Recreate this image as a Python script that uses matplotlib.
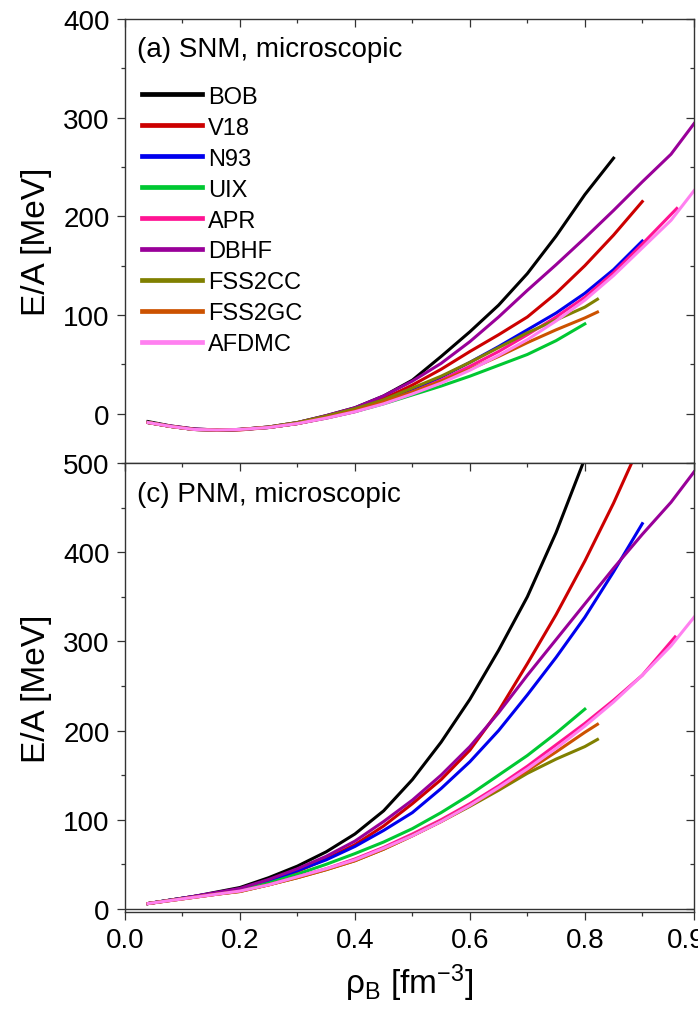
import numpy as np
import matplotlib
matplotlib.use("Agg")
import matplotlib.pyplot as plt
from matplotlib.ticker import MultipleLocator

plt.rcParams['font.family'] = ['Liberation Sans', 'DejaVu Sans']
plt.rcParams['mathtext.fontset'] = 'custom'
plt.rcParams['mathtext.rm'] = 'Liberation Sans'
plt.rcParams['mathtext.it'] = 'Liberation Sans:italic'

# --- EoS curves: energy per baryon vs baryon density ---
names = ["BOB", "V18", "N93", "UIX", "APR", "DBHF", "FSS2CC", "FSS2GC", "AFDMC"]
colors = ["#000000", "#CC0000", "#0000EE", "#00C832", "#FF1493",
          "#990099", "#808000", "#CC5200", "#FF80F0"]

# density grid shared by the tabulated curves
grid = [0.04, 0.08, 0.12, 0.16, 0.2, 0.25, 0.3, 0.35, 0.4, 0.45, 0.5,
        0.55, 0.6, 0.65, 0.7, 0.75, 0.8, 0.85, 0.9, 0.95]

# symmetric nuclear matter (a): values on grid, then last point
snm_y = {
    "BOB":    [-8, -12.5, -15.5, -16.5, -16, -13.5, -9, -2, 6, 18, 34, 58, 83, 110, 142, 180, 222, 259],
    "V18":    [-9, -13, -16, -17, -16.5, -14, -10, -4, 4, 15, 29, 45, 63, 80, 98, 122, 150, 181, 215],
    "N93":    [-9, -13, -16, -16.5, -16, -14, -10, -4, 3, 12, 24, 37, 52, 68, 85, 102, 122, 146, 175],
    "UIX":    [-9, -13, -16, -16.5, -16, -14, -10, -4.5, 2, 10, 19, 28, 38, 49, 60, 74, 91],
    "APR":    [-9, -13, -16, -16.5, -16, -14, -10, -4.5, 2, 11, 22, 34, 48, 63, 80, 98, 118, 143, 172],
    "DBHF":   [-9, -12.5, -15.5, -16.5, -16, -13.5, -9, -2, 6, 18, 33, 51, 73, 98, 125, 151, 178, 206, 235, 263],
    "FSS2CC": [-9, -13, -16, -16.5, -16, -13.5, -9, -2.5, 5, 14, 26, 38, 52, 67, 82, 95, 108],
    "FSS2GC": [-9, -13, -16, -16.5, -16, -14, -10, -4, 3, 12, 22, 33, 45, 58, 72, 85, 97],
    "AFDMC":  [-9, -13, -16, -16.5, -16, -14, -10, -4.5, 2, 10, 20, 31, 44, 59, 75, 94, 115, 140, 168, 196],
}
snm_end = {"APR": (0.96, 208), "DBHF": (0.99, 294), "FSS2CC": (0.822, 116),
           "FSS2GC": (0.822, 103), "AFDMC": (0.99, 226)}

# pure neutron matter (c)
pnm_y = {
    "BOB":    [6, 10, 14, 19, 24, 35, 48, 64, 84, 110, 145, 187, 235, 290, 350, 422, 505],
    "V18":    [6, 10, 14, 18, 22, 31, 42, 56, 72, 93, 118, 145, 178, 222, 275, 330, 390, 455],
    "N93":    [6, 10, 14, 18, 22, 31, 43, 55, 70, 88, 108, 135, 165, 200, 240, 282, 327, 378, 432],
    "UIX":    [6, 10, 13.5, 17, 21, 29, 39, 50, 62, 75, 90, 108, 128, 150, 172, 197, 224],
    "APR":    [6, 9.5, 13, 16.5, 20, 27, 36, 45, 56, 69, 84, 100, 118, 138, 160, 184, 208, 234, 262],
    "DBHF":   [6, 10, 14, 18.5, 23, 33, 45, 59, 76, 98, 122, 150, 182, 220, 262, 302, 342, 382, 420, 456],
    "FSS2CC": [6, 9.5, 13, 16.5, 19.5, 27, 35, 44, 54, 67, 82, 98, 115, 133, 152, 168, 182],
    "FSS2GC": [6, 9.5, 13, 16.5, 19.5, 27, 35, 44, 54, 67, 82, 98, 116, 135, 155, 176, 198],
    "AFDMC":  [6, 9.5, 13, 16.5, 20, 27, 36, 45, 55, 68, 82, 98, 116, 136, 157, 180, 205, 232, 262, 295],
}
pnm_end = {"V18": (0.885, 505), "APR": (0.957, 305), "DBHF": (0.99, 490),
           "FSS2CC": (0.822, 190), "FSS2GC": (0.822, 207), "AFDMC": (0.99, 327)}

XTICKS = [0.0, 0.2, 0.4, 0.6, 0.8, 0.99]
XTICKLABELS = ["0.0", "0.2", "0.4", "0.6", "0.8", "0.99"]


def curve(vals, ends, name):
    y = list(vals[name])
    x = grid[:len(y)]
    if name in ends:
        x = x + [ends[name][0]]
        y = y + [ends[name][1]]
    return x, y


fig = plt.figure(figsize=(6.98, 10.12), dpi=100)
ax1 = fig.add_axes([0.1791, 0.5415, 0.8152, 0.4387])
ax2 = fig.add_axes([0.1791, 0.0978, 0.8152, 0.4437])

for name, c in zip(names, colors):
    x, y = curve(snm_y, snm_end, name)
    ax1.plot(x, y, color=c, lw=2.2, label=name, solid_joinstyle='round')
    x, y = curve(pnm_y, pnm_end, name)
    ax2.plot(x, y, color=c, lw=2.2, label=name, solid_joinstyle='round')

ax1.set_ylim(-50, 400)
ax2.set_ylim(-3.5, 500)
ax2.axhline(0, color='#333333', lw=1.0, zorder=0)

for ax in (ax1, ax2):
    ax.set_xlim(0, 0.99)
    ax.xaxis.set_minor_locator(MultipleLocator(0.1))
    ax.yaxis.set_major_locator(MultipleLocator(100))
    ax.yaxis.set_minor_locator(MultipleLocator(50))
    for s in ax.spines.values():
        s.set_linewidth(1.0)
        s.set_color('#333333')
    ax.tick_params(which='both', direction='out', width=0.9, color='#333333',
                   top=False, right=False, labelsize=20, pad=5)
    ax.tick_params(which='major', length=6)
    ax.tick_params(which='minor', length=3)
    # inward mirror ticks on top and right
    sx = ax.secondary_xaxis('top')
    sx.set_xticks(XTICKS)
    sx.xaxis.set_minor_locator(MultipleLocator(0.1))
    sx.tick_params(which='both', direction='in', width=0.9, color='#333333',
                   labeltop=False)
    sx.tick_params(which='major', length=6)
    sx.tick_params(which='minor', length=3)
    sx.spines['top'].set_visible(False)
    sy = ax.secondary_yaxis('right')
    sy.yaxis.set_major_locator(MultipleLocator(100))
    sy.yaxis.set_minor_locator(MultipleLocator(50))
    sy.tick_params(which='both', direction='in', width=0.9, color='#333333',
                   labelright=False)
    sy.tick_params(which='major', length=6)
    sy.tick_params(which='minor', length=3)
    sy.spines['right'].set_visible(False)
    ax.set_ylabel("E/A [MeV]", fontsize=24, labelpad=8)

ax1.set_yticks([0, 100, 200, 300, 400])
ax1.set_xticks(XTICKS)
ax1.tick_params(axis='x', labelbottom=False)
ax2.set_yticks([0, 100, 200, 300, 400, 500])
ax2.set_xticks(XTICKS)
ax2.set_xticklabels(XTICKLABELS)
ax2.set_xlabel(r"ρ$_\mathregular{B}$ [fm$^\mathregular{-3}$]", fontsize=24, labelpad=6)

ax1.text(0.021, 0.932, "(a) SNM, microscopic", transform=ax1.transAxes,
         fontsize=20, va='center', ha='left')
ax2.text(0.021, 0.931, "(c) PNM, microscopic", transform=ax2.transAxes,
         fontsize=20, va='center', ha='left')

leg = ax1.legend(loc='upper left', bbox_to_anchor=(0.03, 0.85), frameon=False,
                 fontsize=17, handlelength=2.55, handletextpad=0.25,
                 labelspacing=0.38, borderpad=0, borderaxespad=0)
for h in leg.get_lines():
    h.set_linewidth(3.4)

fig.savefig("out.png", dpi=100, facecolor='white')
